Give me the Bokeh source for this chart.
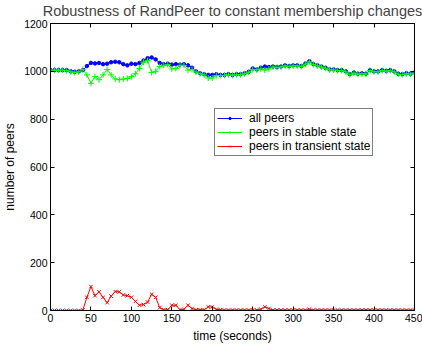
from bokeh.plotting import figure
from bokeh.models import Range1d, LinearAxis, FixedTicker, Legend, LegendItem, Title
from bokeh.embed import file_html
from bokeh.resources import INLINE

time_s = list(range(0, 455, 5))
all_peers = [1005, 1005, 1005, 1005, 1005, 1000, 998, 1000, 1005, 1022,
             1035, 1033, 1035, 1030, 1032, 1038, 1040, 1038, 1030, 1025,
             1032, 1030, 1035, 1045, 1055, 1058, 1050, 1035, 1030, 1032,
             1028, 1030, 1028, 1030, 1025, 1015, 1000, 992, 988, 985,
             985, 988, 985, 985, 988, 985, 988, 988, 992, 998,
             1012, 1008, 1015, 1020, 1018, 1020, 1018, 1020, 1025, 1022,
             1025, 1025, 1022, 1032, 1042, 1030, 1025, 1020, 1015, 1008,
             1008, 1005, 1005, 1000, 988, 995, 990, 992, 990, 1005,
             1000, 1000, 1005, 1002, 1005, 1000, 990, 988, 992, 990, 995]
stable_peers = [1005, 1005, 1005, 1005, 1003, 998, 995, 998, 1008, 985,
                950, 978, 965, 985, 1008, 985, 968, 965, 968, 970,
                978, 990, 1012, 1038, 1045, 995, 1000, 1020, 1025, 1028,
                1010, 1012, 1025, 1025, 1005, 1008, 997, 990, 985, 972,
                972, 983, 982, 983, 986, 983, 986, 986, 990, 996,
                1008, 1006, 1010, 1005, 1010, 1018, 1016, 1018, 1023, 1020,
                1023, 1023, 1020, 1030, 1040, 1028, 1023, 1018, 1013, 1006,
                1006, 1003, 1003, 998, 986, 993, 988, 990, 988, 1003,
                998, 998, 1003, 1000, 1003, 998, 988, 986, 990, 988, 993]
transient_peers = [0, 0, 0, 0, 0, 0, 0, 0, 2, 55,
                   100, 62, 78, 55, 33, 60, 79, 78, 65, 62,
                   55, 38, 22, 25, 35, 68, 55, 12, 3, 3,
                   22, 22, 3, 5, 22, 8, 3, 3, 3, 15,
                   15, 5, 3, 2, 2, 2, 2, 2, 2, 2,
                   2, 2, 5, 15, 8, 2, 2, 2, 2, 2,
                   2, 2, 2, 2, 5, 2, 2, 2, 2, 2,
                   2, 2, 2, 2, 2, 2, 2, 2, 2, 2,
                   2, 2, 2, 2, 2, 2, 2, 2, 2, 2, 2]

title_text = "Robustness of RandPeer to constant membership changes"
x_ticks = [0, 50, 100, 150, 200, 250, 300, 350, 400, 450]
y_ticks = [0, 200, 400, 600, 800, 1000, 1200]
FONT = "Liberation Sans"

p = figure(width=422, height=345, output_backend="svg", toolbar_location=None,
           x_range=Range1d(0, 450), y_range=Range1d(0, 1200),
           min_border_left=49, min_border_right=8, min_border_top=23, min_border_bottom=34,
           x_axis_label="time (seconds)", y_axis_label="number of peers")
p.title = Title(text=title_text, text_font=FONT, text_font_size="14.5px",
                text_font_style="normal", align="center", vertical_align="top",
                offset=0, standoff=5)
p.xgrid.visible = False
p.ygrid.visible = False
p.outline_line_color = "black"
p.outline_line_width = 1
p.background_fill_color = "white"
p.border_fill_color = "white"

for ax in p.xaxis + p.yaxis:
    ax.major_tick_in = 4
    ax.major_tick_out = 0
    ax.minor_tick_line_color = None
    ax.axis_line_color = "black"
    ax.major_label_text_font = FONT
    ax.major_label_text_font_size = "10.5px"
    ax.major_label_text_color = "black"
    ax.axis_label_text_font = FONT
    ax.axis_label_text_font_size = "12px"
    ax.axis_label_text_font_style = "normal"
    ax.axis_label_text_color = "black"
    ax.major_label_standoff = 3
    ax.axis_label_standoff = 4
p.xaxis.ticker = FixedTicker(ticks=x_ticks)
p.yaxis.ticker = FixedTicker(ticks=y_ticks)

top_ax = LinearAxis(ticker=FixedTicker(ticks=x_ticks), major_tick_in=4, major_tick_out=0,
                    minor_tick_line_color=None, major_label_standoff=0,
                    major_label_overrides={t: "" for t in x_ticks})
right_ax = LinearAxis(ticker=FixedTicker(ticks=y_ticks), major_tick_in=4, major_tick_out=0,
                      minor_tick_line_color=None, major_label_standoff=0,
                      major_label_overrides={t: "" for t in y_ticks})
p.add_layout(top_ax, "above")
p.add_layout(right_ax, "right")

l1 = p.line(time_s, all_peers, color="#0000ff", line_width=1)
s1 = p.scatter(time_s, all_peers, marker="circle", size=3.5, color="#0000ff")
l2 = p.line(time_s, stable_peers, color="#00ff00", line_width=1)
s2 = p.scatter(time_s, stable_peers, marker="cross", size=6, color="#00ff00", line_width=1)
l3 = p.line(time_s, transient_peers, color="#ff0000", line_width=1)
s3 = p.scatter(time_s, transient_peers, marker="x", size=5, color="#ff0000", line_width=1)

legend = Legend(items=[
    LegendItem(label="all peers", renderers=[l1, s1]),
    LegendItem(label="peers in stable state", renderers=[l2, s2]),
    LegendItem(label="peers in transient state", renderers=[l3, s3]),
], location=(164, 154))
legend.border_line_color = "black"
legend.border_line_width = 1
legend.label_text_font = FONT
legend.label_text_font_size = "12px"
legend.label_text_color = "black"
legend.padding = 2
legend.spacing = 0
legend.margin = 0
legend.glyph_width = 25
legend.glyph_height = 6
legend.label_height = 14
legend.label_standoff = 7
legend.background_fill_alpha = 1
p.add_layout(legend, "center")

open("out.html", "w").write(file_html(p, INLINE))
